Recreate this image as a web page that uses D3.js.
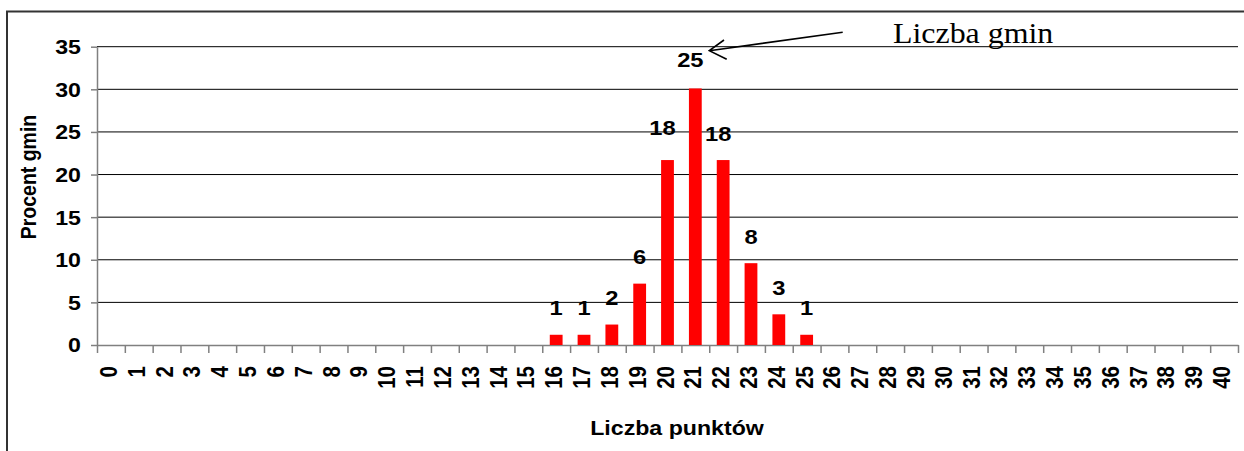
<!DOCTYPE html>
<html>
<head>
<meta charset="utf-8">
<script src="https://cdn.jsdelivr.net/npm/d3@7"></script>
<style>
  html, body { margin: 0; padding: 0; background: #fff; }
  svg { display: block; }
</style>
</head>
<body>
<svg id="chart" width="1244" height="451"></svg>
<script>
// ---- data ----
const categories = ["0","1","2","3","4","5","6","7","8","9","10","11","12","13","14","15","16","17","18","19","20","21","22","23","24","25","26","27","28","29","30","31","32","33","34","35","36","37","38","39","40"];
const percentGmin = [0,0,0,0,0,0,0,0,0,0,0,0,0,0,0,0,1.2,1.2,2.4,7.2,21.7,30.1,21.7,9.6,3.6,1.2,0,0,0,0,0,0,0,0,0,0,0,0,0,0,0];
const countLabels = [null,null,null,null,null,null,null,null,null,null,null,null,null,null,null,null,"1","1","2","6","18","25","18","8","3","1",null,null,null,null,null,null,null,null,null,null,null,null,null,null,null];
const yTicks = [0,5,10,15,20,25,30,35];
const xTitle = "Liczba punktów";
const yTitle = "Procent gmin";
const annotationText = "Liczba gmin";

// ---- layout ----
const SX = 1.13;               // horizontal text stretch of the original
const plotL = 97, plotR = 1238, plotT = 46.7, plotB = 345;
const sansFont = "Arial, 'Liberation Sans', sans-serif";
const serifFont = "'Times New Roman', 'Liberation Serif', serif";

const svg = d3.select("#chart");

// outer frame
svg.append("rect")
  .attr("x", 7).attr("y", 11.5).attr("width", 1300).attr("height", 600)
  .attr("fill", "none").attr("stroke", "#333").attr("stroke-width", 2);

const x = d3.scaleBand().domain(categories).range([plotL, plotR])
  .paddingInner(0.54).paddingOuter(0.27);
const xEdge = d3.scaleLinear().domain([0, categories.length]).range([plotL, plotR]);
const y = d3.scaleLinear().domain([0, 35]).range([plotB, plotT]);

// gridlines
svg.append("g")
  .selectAll("line").data(yTicks.filter(d => d > 0)).join("line")
  .attr("x1", plotL).attr("x2", plotR)
  .attr("y1", d => y(d)).attr("y2", d => y(d))
  .attr("stroke", "#000").attr("stroke-width", 1);

// y axis
const yAxis = svg.append("g").attr("transform", `translate(${plotL},0)`)
  .call(d3.axisLeft(y).tickValues(yTicks).tickSize(6).tickSizeOuter(0).tickFormat(""));
yAxis.selectAll("path, line").attr("stroke", "#808080").attr("stroke-width", 1.5);

// x axis (ticks at category boundaries)
const xAxis = svg.append("g").attr("transform", `translate(0,${plotB})`)
  .call(d3.axisBottom(xEdge).tickValues(d3.range(categories.length + 1)).tickSize(8).tickSizeOuter(0).tickFormat(""));
xAxis.selectAll("path, line").attr("stroke", "#808080").attr("stroke-width", 1.5);

// bars
svg.append("g").selectAll("rect")
  .data(categories.map((c, i) => ({c, v: percentGmin[i]})).filter(d => d.v > 0))
  .join("rect")
  .attr("x", d => x(d.c)).attr("width", x.bandwidth())
  .attr("y", d => y(d.v)).attr("height", d => plotB - y(d.v))
  .attr("fill", "#FF0000");

// y tick labels
svg.append("g").selectAll("text").data(yTicks).join("text")
  .attr("transform", d => `translate(81,${y(d)}) scale(${SX},1)`)
  .attr("text-anchor", "end").attr("dy", "0.36em")
  .attr("font-family", sansFont).attr("font-weight", "bold").attr("font-size", 20.5)
  .text(d => d);

// x tick labels (rotated)
svg.append("g").selectAll("text").data(categories).join("text")
  .attr("transform", d => `translate(${x(d) + x.bandwidth() / 2 + 6},366) scale(${SX},1) rotate(-90)`)
  .attr("text-anchor", "end")
  .attr("font-family", sansFont).attr("font-weight", "bold").attr("font-size", 20.5)
  .text(d => d);

// value labels
const labelData = categories.map((c, i) => ({c, v: percentGmin[i], t: countLabels[i]})).filter(d => d.t !== null);
svg.append("g").selectAll("text").data(labelData).join("text")
  .attr("transform", d => {
    const dx = d.t.length > 1 ? -5 : 0;
    const dy = d.c === "20" ? -6 : (d.c === "21" ? -2 : 0);
    return `translate(${x(d.c) + x.bandwidth() / 2 + dx},${y(d.v) - 19.5 + dy}) scale(${SX},1)`;
  })
  .attr("text-anchor", "middle")
  .attr("font-family", sansFont).attr("font-weight", "bold").attr("font-size", 21)
  .text(d => d.t);

// axis titles
svg.append("text")
  .attr("transform", `translate(677,435) scale(${SX},1)`)
  .attr("text-anchor", "middle")
  .attr("font-family", sansFont).attr("font-weight", "bold").attr("font-size", 20.5)
  .text(xTitle);
svg.append("text")
  .attr("transform", `translate(36,177) scale(${SX},1) rotate(-90)`)
  .attr("text-anchor", "middle")
  .attr("font-family", sansFont).attr("font-weight", "bold").attr("font-size", 19.5)
  .text(yTitle);

// annotation
svg.append("text")
  .attr("transform", `translate(893,43) scale(1.1,1)`)
  .attr("font-family", serifFont).attr("font-size", 29)
  .text(annotationText);
svg.append("path")
  .attr("d", "M842.7,32.3 L709.3,50.7 M724,40 L709.3,50.7 L726.7,59.3")
  .attr("fill", "none").attr("stroke", "#000").attr("stroke-width", 1.6);
</script>
</body>
</html>
